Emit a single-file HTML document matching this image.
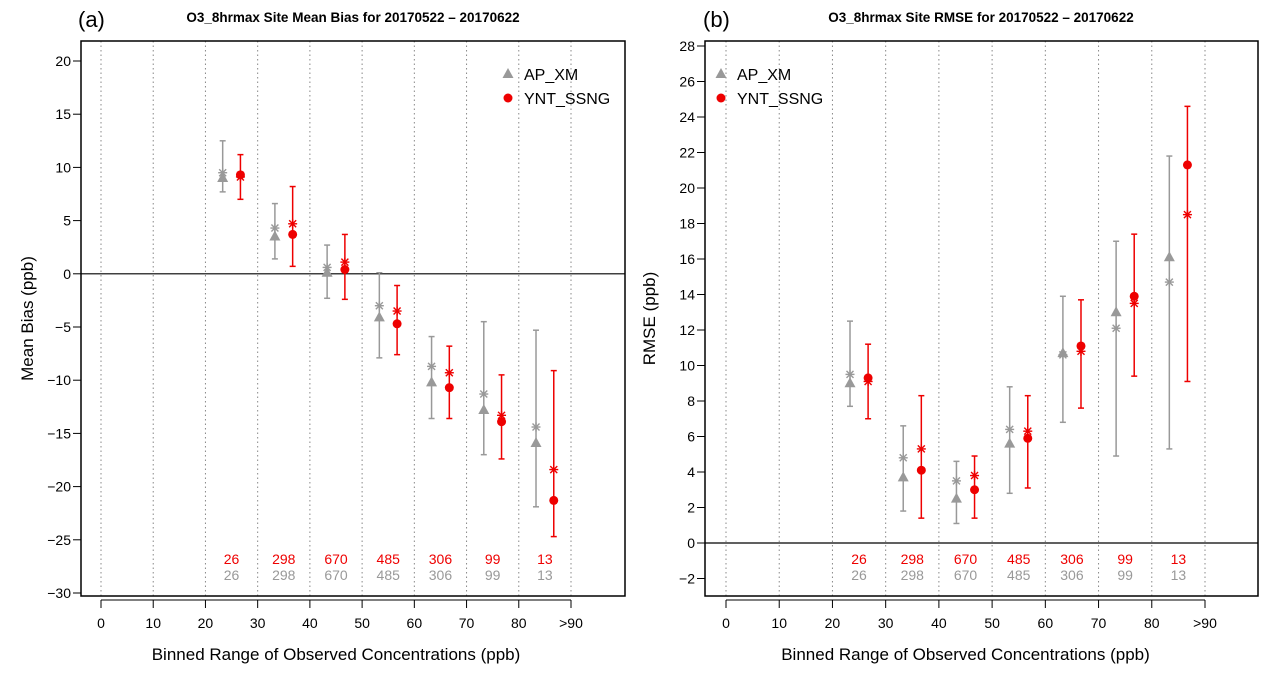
<!DOCTYPE html>
<html><head><meta charset="utf-8"><style>
body{margin:0;background:#fff;}
svg{display:block;font-family:"Liberation Sans",Arial,sans-serif;}
</style></head><body>
<svg id="c" width="1261" height="678" viewBox="0 0 1261 678"></svg>
<script>
const binCenters=[25,35,45,55,65,75,85];
const xTickVals=[0,10,20,30,40,50,60,70,80,90];
const xTickLabels=["0","10","20","30","40","50","60","70","80",">90"];
const counts=[26,298,670,485,306,99,13];
// Panel a: mean bias
const aGrayTri=[9.0,3.5,0.1,-4.1,-10.2,-12.8,-15.9];
const aGrayStar=[9.5,4.3,0.6,-3.0,-8.7,-11.3,-14.4];
const aGrayLo=[7.7,1.4,-2.3,-7.9,-13.6,-17.0,-21.9];
const aGrayHi=[12.5,6.6,2.7,0.1,-5.9,-4.5,-5.3];
const aRedDot=[9.3,3.7,0.4,-4.7,-10.7,-13.9,-21.3];
const aRedStar=[9.1,4.7,1.1,-3.5,-9.3,-13.3,-18.4];
const aRedLo=[7.0,0.7,-2.4,-7.6,-13.6,-17.4,-24.7];
const aRedHi=[11.2,8.2,3.7,-1.1,-6.8,-9.5,-9.1];
const aYTicks=[20,15,10,5,0,-5,-10,-15,-20,-25,-30];
// Panel b: RMSE
const bGrayTri=[9.0,3.7,2.5,5.6,10.7,13.0,16.1];
const bGrayStar=[9.5,4.8,3.5,6.4,10.6,12.1,14.7];
const bGrayLo=[7.7,1.8,1.1,2.8,6.8,4.9,5.3];
const bGrayHi=[12.5,6.6,4.6,8.8,13.9,17.0,21.8];
const bRedDot=[9.3,4.1,3.0,5.9,11.1,13.9,21.3];
const bRedStar=[9.1,5.3,3.8,6.3,10.8,13.5,18.5];
const bRedLo=[7.0,1.4,1.4,3.1,7.6,9.4,9.1];
const bRedHi=[11.2,8.3,4.9,8.3,13.7,17.4,24.6];
const bYTicks=[28,26,24,22,20,18,16,14,12,10,8,6,4,2,0,-2];

const svg=document.getElementById('c');
const NS='http://www.w3.org/2000/svg';
function el(tag,attrs,parent,text){const e=document.createElementNS(NS,tag);for(const k in attrs)e.setAttribute(k,attrs[k]);if(text!==undefined)e.textContent=text;(parent||svg).appendChild(e);return e;}
const GRAY='#999999',RED='#ee0000';

function panel(cfg){
  const g=el('g',{});
  
  
  const X=v=>cfg.x0+(v/90)*(cfg.x90-cfg.x0);
  const Y=v=>cfg.yA+(v-cfg.vA)*(cfg.yB-cfg.yA)/(cfg.vB-cfg.vA);
  // grid
  xTickVals.forEach(v=>{const l=el('line',{x1:X(v),x2:X(v),y1:cfg.top,y2:cfg.bottom,stroke:'#888','stroke-width':1,'stroke-dasharray':'1.5,3'},g);
    });
  // zero line
  const z=el('line',{x1:cfg.left,x2:cfg.right,y1:Y(0),y2:Y(0),stroke:'#000','stroke-width':1.2},g);
  
  // box
  const b=el('rect',{x:cfg.left,y:cfg.top,width:cfg.right-cfg.left,height:cfg.bottom-cfg.top,fill:'none',stroke:'#000','stroke-width':1.5},g);
  
  // y ticks
  cfg.yTicks.forEach(v=>{el('line',{x1:cfg.left-8,x2:cfg.left,y1:Y(v),y2:Y(v),stroke:'#000'},g);
    const t=el('text',{x:cfg.left-10,y:Y(v)+5,'text-anchor':'end','font-size':14},g,String(v).replace('-','\u2212'));
    });
  // x ticks
  el('line',{x1:X(0),x2:X(90),y1:cfg.bottom+4,y2:cfg.bottom+4,stroke:'#000'},g);
  xTickVals.forEach((v,i)=>{el('line',{x1:X(v),x2:X(v),y1:cfg.bottom+4,y2:cfg.bottom+12,stroke:'#000'},g);
    const t=el('text',{x:X(v),y:cfg.bottom+32,'text-anchor':'middle','font-size':14},g,xTickLabels[i]);
    });
  const xt=el('text',{x:(X(0)+X(90))/2,y:660,'text-anchor':'middle','font-size':17},g,'Binned Range of Observed Concentrations (ppb)');
  
  const yt=el('text',{x:0,y:0,'text-anchor':'middle','font-size':17,transform:`translate(${cfg.ytx},${(cfg.top+cfg.bottom)/2}) rotate(-90)`},g,cfg.ytitle);
  
  const lb=el('text',{x:cfg.lblx,y:27,'font-size':22},g,cfg.letter);
  
  const tt=el('text',{x:cfg.titlex,y:22,'text-anchor':'middle','font-size':13.5,'font-weight':'bold'},g,cfg.title);
  
  function star(x,y,c){const s=el('g',{stroke:c,'stroke-width':1.4},g);
    
    el('line',{x1:x-4.5,x2:x+4.5,y1:y,y2:y},s);el('line',{x1:x-3.5,x2:x+3.5,y1:y-3.5,y2:y+3.5},s);el('line',{x1:x-3.5,x2:x+3.5,y1:y+3.5,y2:y-3.5},s);el('line',{x1:x,x2:x,y1:y-4.5,y2:y+4.5},s);}
  function errbar(x,lo,hi,c){const e=el('g',{stroke:c,'stroke-width':1.5},g);
    
    el('line',{x1:x,x2:x,y1:Y(lo),y2:Y(hi)},e);el('line',{x1:x-3,x2:x+3,y1:Y(lo),y2:Y(lo)},e);el('line',{x1:x-3,x2:x+3,y1:Y(hi),y2:Y(hi)},e);}
  binCenters.forEach((c,i)=>{
    const gx=X(c-1.7),rx=X(c+1.7);
    errbar(gx,cfg.gLo[i],cfg.gHi[i],GRAY);
    const ty=Y(cfg.gTri[i]);
    const tri=el('polygon',{points:`${gx},${ty-6} ${gx-5.5},${ty+4} ${gx+5.5},${ty+4}`,fill:GRAY},g);
    
    star(gx,Y(cfg.gStar[i]),GRAY);
    errbar(rx,cfg.rLo[i],cfg.rHi[i],RED);
    const d=el('circle',{cx:rx,cy:Y(cfg.rDot[i]),r:4.5,fill:RED},g);
    
    star(rx,Y(cfg.rStar[i]),RED);
    const cr=el('text',{x:X(c),y:cfg.bottom-32,'text-anchor':'middle','font-size':14,fill:RED},g,counts[i]);
    
    const cg=el('text',{x:X(c),y:cfg.bottom-16,'text-anchor':'middle','font-size':14,fill:GRAY},g,counts[i]);
    
  });
  const lg=el('g',{},g);
  
  const lx=cfg.legx;
  el('polygon',{points:`${lx},${68} ${lx-5.5},${78} ${lx+5.5},${78}`,fill:GRAY},lg);
  el('text',{x:lx+16,y:80,'font-size':16},lg,'AP_XM');
  el('circle',{cx:lx,cy:98,r:4.5,fill:RED},lg);
  el('text',{x:lx+16,y:104,'font-size':16},lg,'YNT_SSNG');
}
panel({name:'panel-a-mean-bias',left:81,right:625,top:41,bottom:596,x0:101,x90:571,yA:61,vA:20,yB:593,vB:-30,
  yTicks:aYTicks,ytitle:'Mean Bias (ppb)',ytx:33,letter:'(a)',lblx:78,title:'O3_8hrmax Site Mean Bias for 20170522 \u2013 20170622',titlex:353,
  gTri:aGrayTri,gStar:aGrayStar,gLo:aGrayLo,gHi:aGrayHi,rDot:aRedDot,rStar:aRedStar,rLo:aRedLo,rHi:aRedHi,legx:508});
panel({name:'panel-b-rmse',left:705,right:1258,top:41,bottom:596,x0:726,x90:1205,yA:46,vA:28,yB:543,vB:0,
  yTicks:bYTicks,ytitle:'RMSE (ppb)',ytx:655,letter:'(b)',lblx:703,title:'O3_8hrmax Site RMSE for 20170522 \u2013 20170622',titlex:981,
  gTri:bGrayTri,gStar:bGrayStar,gLo:bGrayLo,gHi:bGrayHi,rDot:bRedDot,rStar:bRedStar,rLo:bRedLo,rHi:bRedHi,legx:721});
</script>
</body></html>
